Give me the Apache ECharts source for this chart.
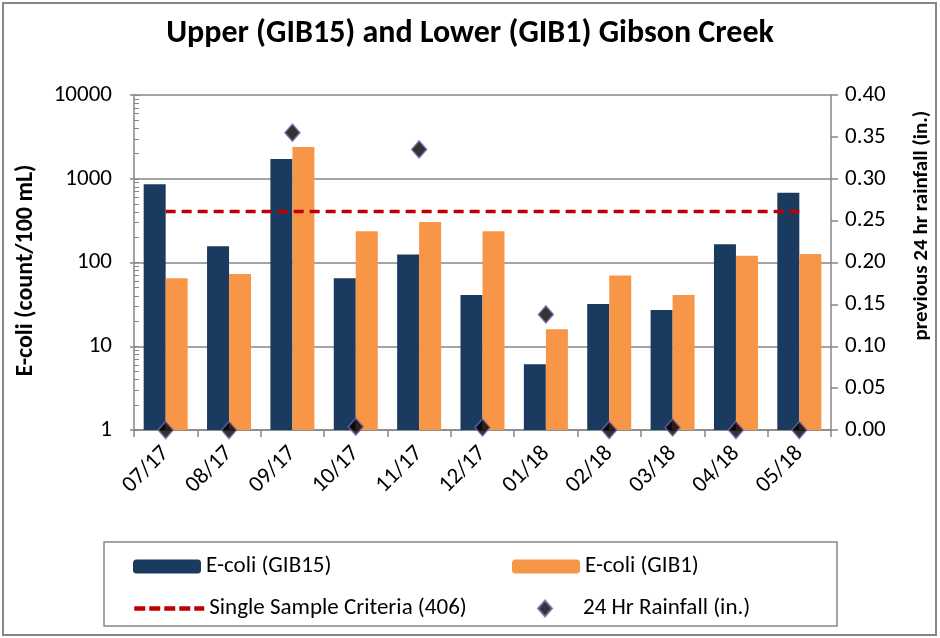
<!DOCTYPE html>
<html>
<head>
<meta charset="utf-8">
<script src="https://cdn.jsdelivr.net/npm/echarts@6/dist/echarts.min.js"></script>
<style>
html, body { margin: 0; padding: 0; background: #fff; }
#chart { width: 940px; height: 638px; }
</style>
</head>
<body>
<div id="chart"></div>
<script>
// monthly samples
let months = ['07/17','08/17','09/17','10/17','11/17','12/17','01/18','02/18','03/18','04/18','05/18'];
let ecoliUpper = [860, 156, 1720, 65, 125, 41, 6.1, 32, 27, 165, 680];   // GIB15
let ecoliLower = [65, 73, 2400, 236, 305, 236, 16, 70, 41, 120, 126];    // GIB1
let criteria = 406;
let rainfall = [0, 0, 0.355, 0.004, 0.335, 0.003, 0.138, 0, 0.003, 0, 0];
let rightTicks = [0, 0.4, 0.05];

let font = 'Carlito, Calibri, "Liberation Sans Narrow", "Open Sans", sans-serif';
let grey = '#868686';

// minor tick positions for the log axis (1,2..9,10,20..)
let logTicks = [];
for (let d = 1; d < 10000; d *= 10) {
    for (let k = 1; k < 10; k++) logTicks.push(d * k);
}
logTicks.push(10000);

let myChart = echarts.init(document.getElementById('chart'));

let legendText = { fontFamily: font, fontSize: 23, color: '#000' };

let option = {
    backgroundColor: '#fff',
    animation: false,
    textStyle: { fontFamily: font },
    title: {
        text: 'Upper (GIB15) and Lower (GIB1) Gibson Creek',
        left: 'center',
        top: 13,
        textStyle: { fontFamily: font, fontSize: 32, fontWeight: 'bold', color: '#000' }
    },
    graphic: [
        { type: 'rect', shape: { x: 3, y: 3, width: 933, height: 632 }, style: { fill: null, stroke: grey, lineWidth: 2 } },
        { type: 'rect', shape: { x: 104, y: 542, width: 733, height: 84 }, style: { fill: null, stroke: grey, lineWidth: 1.5 } }
    ],
    legend: [
        { data: ['E-coli (GIB15)'], left: 128, top: 550, itemWidth: 68, itemHeight: 14, itemGap: 0, textStyle: legendText },
        { data: ['E-coli (GIB1)'], left: 507, top: 550, itemWidth: 68, itemHeight: 14, itemGap: 0, textStyle: legendText },
        {
            data: ['Single Sample Criteria (406)'], left: 127, top: 592, itemWidth: 70, itemHeight: 14,
            itemStyle: { opacity: 0 },
            lineStyle: { width: 4.5, type: [11, 4] },
            textStyle: legendText
        },
        { data: ['24 Hr Rainfall (in.)'], left: 532, top: 592, itemWidth: 14, itemHeight: 16, textStyle: Object.assign({}, legendText, { padding: [0, 0, 0, 26] }) }
    ],
    grid: { left: 134, right: 107, top: 95, bottom: 208, containLabel: false },
    xAxis: {
        type: 'category',
        data: months,
        axisLine: { lineStyle: { color: grey, width: 1.5 } },
        axisTick: { show: true, length: 7, lineStyle: { color: grey, width: 1.5 } },
        axisLabel: { rotate: 45, fontFamily: font, fontSize: 23, color: '#000', margin: 20 }
    },
    yAxis: [
        {
            type: 'log',
            logBase: 10,
            min: 1,
            max: 10000,
            name: 'E-coli (count/100 mL)',
            nameLocation: 'middle',
            nameGap: 96,
            nameTextStyle: { fontFamily: font, fontSize: 24, fontWeight: 'bold', color: '#000', padding: [0, 16, 0, 0] },
            axisLine: { show: true, lineStyle: { color: grey, width: 1.5 } },
            axisTick: { show: true, length: 4, lineStyle: { color: grey, width: 1.5 } },
            axisLabel: { fontFamily: font, fontSize: 23, color: '#000', margin: 22, formatter: function (v) { return String(Math.round(v)); } },
            splitLine: { show: true, lineStyle: { color: grey, width: 1.5 } }
        },
        {
            type: 'value',
            min: rightTicks[0],
            max: rightTicks[1],
            interval: rightTicks[2],
            position: 'right',
            name: 'previous 24 hr rainfall (in.)',
            nameLocation: 'middle',
            nameGap: 80,
            nameRotate: 90,
            nameTextStyle: { fontFamily: font, fontSize: 21, fontWeight: 'bold', color: '#000', padding: [0, 0, 0, 74] },
            axisLine: { show: true, lineStyle: { color: grey, width: 1.5 } },
            axisTick: { show: true, length: 7, lineStyle: { color: grey, width: 1.5 } },
            axisLabel: { fontFamily: font, fontSize: 23, color: '#000', margin: 14, formatter: function (v) { return v.toFixed(2); } },
            splitLine: { show: false }
        },
        {
            // minor ticks of the log axis, drawn inside
            type: 'log',
            logBase: 10,
            min: 1,
            max: 10000,
            position: 'left',
            axisLine: { show: false },
            axisTick: { show: true, inside: true, length: 5, customValues: logTicks, lineStyle: { color: grey, width: 1 } },
            axisLabel: { show: false },
            splitLine: { show: false }
        }
    ],
    series: [
        {
            name: 'E-coli (GIB15)',
            type: 'bar',
            barWidth: 22,
            barGap: '0%',
            itemStyle: { color: '#1b3a5f' },
            data: ecoliUpper
        },
        {
            name: 'E-coli (GIB1)',
            type: 'bar',
            barWidth: 22,
            itemStyle: { color: '#f79646' },
            data: ecoliLower
        },
        {
            name: 'Single Sample Criteria (406)',
            type: 'line',
            symbol: 'none',
            lineStyle: { color: '#c00000', width: 3.5, type: [10, 6] },
            itemStyle: { color: '#c00000' },
            data: months.map(function () { return criteria; })
        },
        {
            name: '24 Hr Rainfall (in.)',
            type: 'scatter',
            yAxisIndex: 1,
            symbol: 'diamond',
            symbolSize: [15, 17],
            itemStyle: { color: '#000', borderColor: '#7e63a8', borderWidth: 1.5 },
            z: 5,
            data: rainfall
        }
    ]
};
myChart.setOption(option);
</script>
</body>
</html>
